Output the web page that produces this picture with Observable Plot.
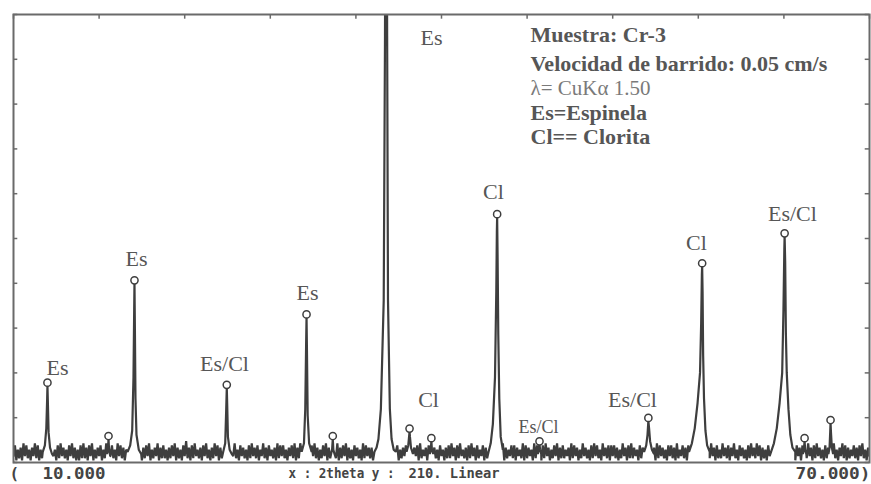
<!DOCTYPE html>
<html><head><meta charset="utf-8">
<script src="https://cdn.jsdelivr.net/npm/d3@7"></script>
<script src="https://cdn.jsdelivr.net/npm/@observablehq/plot@0.6"></script>
<style>body{margin:0;background:#fff}</style>
</head><body><div id="chart"></div>
<script>
// 2theta range and intensity range (y full scale 210, linear)
const xRange = [10, 70];
const yRange = [0, 210];
const xTicks = [10,16,22,28,34,40,46,52,58,64,70];
const yTicks = [0,21,42,63,84,105,126,147,168,189,210];

// background counts, one character per 0.1 deg (base-36 digit)
const background =
  "38162719382617392816273819273618293726183927161829" +
  "27183916273816291738261938271638271926381728391627" +
  "39172826172839172618 3a271829362718392617293817261 8" +
  "18273926183726182937281639271836271928382617382917" +
  "29381726183927162839172836291728391726183726192837" +
  "27182936173827 1b29381627382916273819263718293726 18" +
  "36172829371829362718293718263817283926173829172638" +
  "28173629182736192837182937162839172826371928371629" +
  "37261829382619372818382716293718292736182738192617" +
  "19283726183827192638271839261798273618293718262937" +
  "28173926183726182937293817261838271926371829372618" +
  "37182629371829372618273819261739281726382718392617" +
  "3";

// peak profiles [2theta, counts]
const p12 = [[12.05,5],[12.2,8],[12.3,16],[12.36,30],[12.38,36],[12.41,28],[12.46,14],[12.56,7],[12.7,4]];
const p16 = [[16.55,4],[16.62,6],[16.66,11],[16.7,6],[16.78,3]];
const p18 = [[18.0,5],[18.18,8],[18.32,15],[18.41,40],[18.46,72],[18.48,84],[18.51,62],[18.55,30],[18.62,13],[18.78,6],[18.95,4]];
const p25 = [[24.7,5],[24.84,9],[24.91,25],[24.95,35],[24.98,27],[25.03,12],[25.15,6],[25.3,4]];
const p30 = [[30.2,5],[30.36,9],[30.45,25],[30.51,55],[30.54,68],[30.57,52],[30.62,22],[30.72,9],[30.9,5]];
const p32 = [[32.26,4],[32.33,6],[32.38,11],[32.42,6],[32.5,4]];
const p36 = [[35.3,5],[35.45,7],[35.58,11],[35.75,25],[35.95,76],[36.04,200],[36.11,400],[36.19,200],[36.25,76],[36.38,25],[36.5,11],[36.65,6],[36.8,5]];
const p37 = [[37.55,5],[37.67,8],[37.74,13],[37.76,14.5],[37.79,12],[37.86,7],[38.0,4]];
const p39 = [[39.18,4],[39.25,6],[39.29,10],[39.33,6],[39.42,4]];
const p44 = [[43.3,5],[43.45,9],[43.6,18],[43.75,40],[43.84,80],[43.88,108],[43.9,115],[43.93,98],[43.98,60],[44.05,30],[44.15,12],[44.3,6]];
const p47 = [[46.75,4],[46.82,6],[46.87,8.5],[46.91,6],[46.99,4]];
const p54 = [[54.2,5],[54.35,8],[54.44,13],[54.5,19.5],[54.55,16],[54.62,10],[54.75,6],[54.9,4]];
const p58 = [[57.35,5],[57.55,9],[57.75,16],[57.95,28],[58.12,42],[58.2,65],[58.25,88],[58.27,92],[58.3,80],[58.34,50],[58.4,30],[58.5,15],[58.62,8],[58.8,5]];
const p64 = [[63.1,5],[63.3,9],[63.5,16],[63.7,28],[63.88,42],[63.97,72],[64.03,100],[64.05,106],[64.09,94],[64.14,60],[64.2,42],[64.32,25],[64.45,13],[64.6,7],[64.8,5]];
const p65 = [[65.33,4],[65.4,6],[65.45,10],[65.49,6],[65.57,4]];
const p67 = [[67.12,4],[67.2,7],[67.25,15],[67.27,18.5],[67.3,14],[67.36,7],[67.45,4]];
const peaks = [p12,p16,p18,p25,p30,p32,p36,p37,p39,p44,p47,p54,p58,p64,p65,p67];

// peak markers (apex positions)
const markerTheta  = [12.38,16.66,18.48,24.95,30.54,32.38,37.76,39.29,43.9,46.87,54.5,58.27,64.05,65.45,67.27];
const markerCounts = [36,11,84,35,68,11,14.5,10,115,8.5,19.5,92,106,10,18.5];

// phase labels
const labelText   = ["Es","Es","Es/Cl","Es","Es","Cl","Cl","Es/Cl","Cl","Es/Cl"];
const labelTheta  = [13.08,18.62,24.79,30.61,39.30,39.09,43.64,53.39,57.87,64.60];
const labelCounts = [44.5,95.6,46.4,79.7,198.8,29.1,126.6,29.1,103.1,116.7];
const smallLabelText = ["Es/Cl"];
const smallLabelTheta = [46.80];
const smallLabelCounts = [16.4];

const infoBold = ["Muestra: Cr-3","Velocidad de barrido: 0.05 cm/s"];
const infoLambda = "λ= CuKα 1.50";
const infoLegend = ["Es=Espinela","Cl== Clorita"];

const footerLeft = ["(", "10.000"];
const footerMid = ["x : 2theta y :", "210. Linear"];
const footerRight = "70.000)";

// build the curve
const bgVals = background.replace(/\s/g,"").split("").map(c => parseInt(c, 36));
const step = (xRange[1]-xRange[0])/(bgVals.length-1);
const spans = peaks.map(p => [p[0][0], p[p.length-1][0]]);
const pts = [];
bgVals.forEach((v,i) => {
  const t = xRange[0] + i*step;
  if (!spans.some(([a,b]) => t >= a && t <= b)) pts.push({t, c: v});
});
peaks.forEach(p => p.forEach(([t,c]) => pts.push({t, c})));
pts.sort((a,b) => a.t - b.t);

const markers = markerTheta.map((t,i) => ({t, c: markerCounts[i]}));
const labels = labelText.map((s,i) => ({s, t: labelTheta[i], c: labelCounts[i]}));
const smallLabels = smallLabelText.map((s,i) => ({s, t: smallLabelTheta[i], c: smallLabelCounts[i]}));

const serif = "Liberation Serif, Times New Roman, serif";
const mono = "DejaVu Sans Mono, Liberation Mono, monospace";
const ink = "#3e3e3e";
const textInk = "#565656";

const info = (txt, dy, opts = {}) => Plot.text([txt], {frameAnchor: "top-left", dx: 517, dy, text: d => d, fontFamily: serif, fontSize: 22, fontWeight: "bold", fill: textInk, textAnchor: "start", lineAnchor: "middle", ...opts});
const foot = (txt, anchor, dx, size, textAnchor = "start") => Plot.text([txt], {frameAnchor: anchor, dx, dy: 11, text: d => d, fontFamily: mono, fontSize: size, fontWeight: "bold", fill: "#444", textAnchor, lineAnchor: "middle"});

const plot = Plot.plot({
  width: 871, height: 484,
  marginLeft: 13, marginRight: 2, marginTop: 14, marginBottom: 22,
  x: {domain: xRange, axis: null},
  y: {domain: yRange, axis: null},
  style: {background: "#fff", overflow: "visible"},
  marks: [
    Plot.line(pts, {x: "t", y: "c", stroke: ink, strokeWidth: 2.2, strokeLinejoin: "miter", clip: true}),
    Plot.frame({stroke: "#6a6a6a", strokeWidth: 2}),
    Plot.ruleX(xTicks, {x: d => d, y1: yRange[1], y2: yRange[1] - 2.2, stroke: "#6a6a6a", strokeWidth: 1.5}),
    Plot.ruleY(yTicks, {y: d => d, x1: xRange[0], x2: xRange[0] + 0.3, stroke: "#6a6a6a", strokeWidth: 1.5}),
    Plot.ruleY(yTicks, {y: d => d, x1: xRange[1], x2: xRange[1] - 0.3, stroke: "#6a6a6a", strokeWidth: 1.5}),
    Plot.dot(markers, {x: "t", y: "c", r: 3.6, dy: -3, stroke: ink, strokeWidth: 1.5, fill: "white"}),
    Plot.text(labels, {x: "t", y: "c", text: "s", fontFamily: serif, fontSize: 22, fill: textInk, textAnchor: "middle", lineAnchor: "middle"}),
    Plot.text(smallLabels, {x: "t", y: "c", text: "s", fontFamily: serif, fontSize: 18, fill: textInk, textAnchor: "middle", lineAnchor: "middle"}),
    info(infoBold[0], 20),
    info(infoBold[1], 49),
    info(infoLambda, 74, {fontWeight: "normal", fontSize: 21, fill: "#7a7a7a"}),
    info(infoLegend[0], 98),
    info(infoLegend[1], 122),
    foot(footerLeft[0], "bottom-left", -4, 16),
    foot(footerLeft[1], "bottom-left", 29, 16),
    foot(footerMid[0], "bottom-left", 275, 14),
    foot(footerMid[1], "bottom-left", 395, 14),
    foot(footerRight, "bottom-right", 1, 16, "end")
  ]
});
document.getElementById("chart").appendChild(plot);

// fit the bitmap-like footer strings to their widths in the scan
const fits = new Map([[footerLeft[1], 63], [footerMid[0], 106], [footerMid[1], 91], [footerRight, 75]]);
d3.select(plot).selectAll("text").each(function() {
  const len = fits.get(this.textContent);
  if (len) d3.select(this).attr("textLength", len).attr("lengthAdjust", "spacingAndGlyphs");
});
</script>
</body></html>
